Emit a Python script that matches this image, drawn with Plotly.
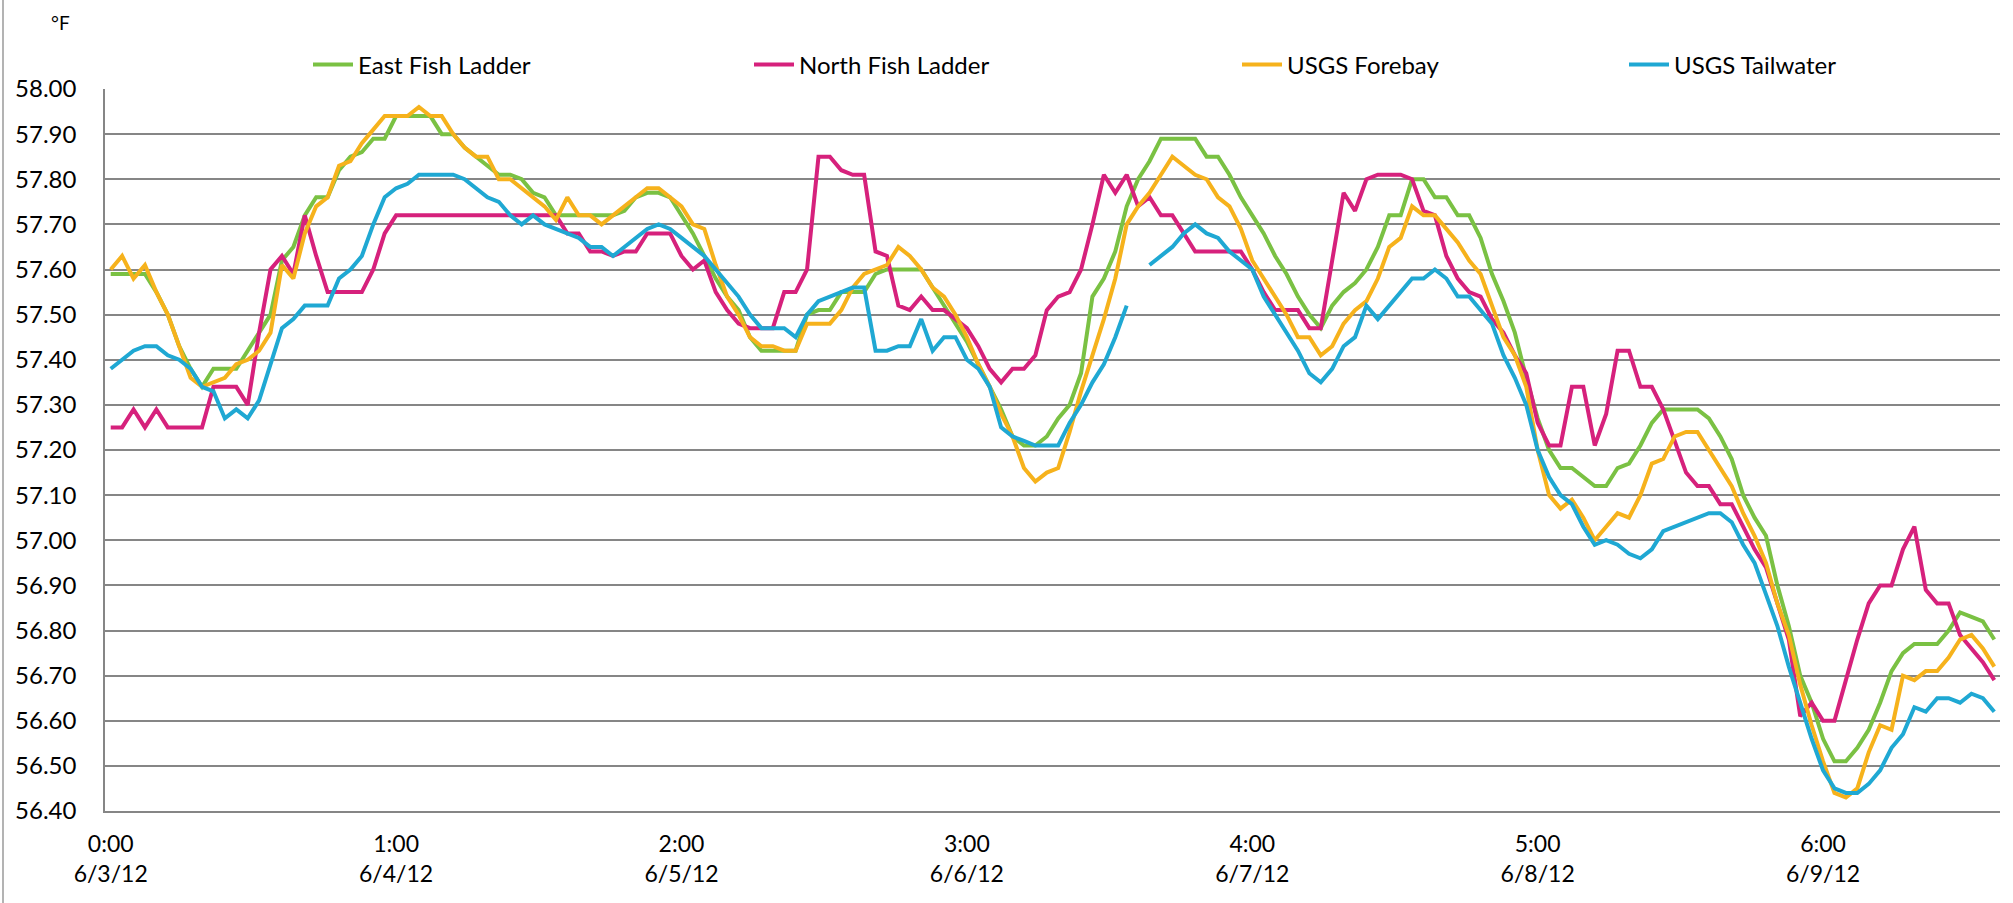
import plotly.graph_objects as go
import pandas as pd

# ---------------- data (hourly readings, °F) ----------------
START = "2012-06-03 00:00"

EAST_FISH_LADDER = [
    57.59, 57.59, 57.59, 57.59, 57.55, 57.50, 57.43, 57.38, 57.34, 57.38,
    57.38, 57.38, 57.42, 57.46, 57.50, 57.62, 57.65, 57.72, 57.76, 57.76,
    57.82, 57.85, 57.86, 57.89, 57.89, 57.94, 57.94, 57.94, 57.94, 57.90,
    57.90, 57.87, 57.85, 57.83, 57.81, 57.81, 57.80, 57.77, 57.76, 57.72,
    57.72, 57.72, 57.72, 57.72, 57.72, 57.73, 57.76, 57.77, 57.77, 57.76,
    57.72, 57.68, 57.63, 57.58, 57.54, 57.51, 57.45, 57.42, 57.42, 57.42,
    57.42, 57.50, 57.51, 57.51, 57.55, 57.55, 57.55, 57.59, 57.60, 57.60,
    57.60, 57.60, 57.56, 57.52, 57.48, 57.44, 57.39, 57.34, 57.29, 57.23,
    57.21, 57.21, 57.23, 57.27, 57.30, 57.37, 57.54, 57.58, 57.64, 57.74,
    57.80, 57.84, 57.89, 57.89, 57.89, 57.89, 57.85, 57.85, 57.81, 57.76,
    57.72, 57.68, 57.63, 57.59, 57.54, 57.50, 57.47, 57.52, 57.55, 57.57,
    57.60, 57.65, 57.72, 57.72, 57.80, 57.80, 57.76, 57.76, 57.72, 57.72,
    57.67, 57.59, 57.53, 57.46, 57.36, 57.27, 57.20, 57.16, 57.16, 57.14,
    57.12, 57.12, 57.16, 57.17, 57.21, 57.26, 57.29, 57.29, 57.29, 57.29,
    57.27, 57.23, 57.18, 57.10, 57.05, 57.01, 56.90, 56.81, 56.70, 56.64,
    56.56, 56.51, 56.51, 56.54, 56.58, 56.64, 56.71, 56.75, 56.77, 56.77,
    56.77, 56.80, 56.84, 56.83, 56.82, 56.78,
]

NORTH_FISH_LADDER = [
    57.25, 57.25, 57.29, 57.25, 57.29, 57.25, 57.25, 57.25, 57.25, 57.34,
    57.34, 57.34, 57.30, 57.46, 57.60, 57.63, 57.59, 57.72, 57.63, 57.55,
    57.55, 57.55, 57.55, 57.60, 57.68, 57.72, 57.72, 57.72, 57.72, 57.72,
    57.72, 57.72, 57.72, 57.72, 57.72, 57.72, 57.72, 57.72, 57.72, 57.72,
    57.68, 57.68, 57.64, 57.64, 57.63, 57.64, 57.64, 57.68, 57.68, 57.68,
    57.63, 57.60, 57.62, 57.55, 57.51, 57.48, 57.47, 57.47, 57.47, 57.55,
    57.55, 57.60, 57.85, 57.85, 57.82, 57.81, 57.81, 57.64, 57.63, 57.52,
    57.51, 57.54, 57.51, 57.51, 57.49, 57.47, 57.43, 57.38, 57.35, 57.38,
    57.38, 57.41, 57.51, 57.54, 57.55, 57.60, 57.70, 57.81, 57.77, 57.81,
    57.74, 57.76, 57.72, 57.72, 57.68, 57.64, 57.64, 57.64, 57.64, 57.64,
    57.60, 57.55, 57.51, 57.51, 57.51, 57.47, 57.47, 57.62, 57.77, 57.73,
    57.80, 57.81, 57.81, 57.81, 57.80, 57.73, 57.72, 57.63, 57.58, 57.55,
    57.54, 57.49, 57.46, 57.41, 57.37, 57.26, 57.21, 57.21, 57.34, 57.34,
    57.21, 57.28, 57.42, 57.42, 57.34, 57.34, 57.29, 57.22, 57.15, 57.12,
    57.12, 57.08, 57.08, 57.03, 56.98, 56.94, 56.86, 56.78, 56.61, 56.64,
    56.60, 56.60, 56.69, 56.78, 56.86, 56.90, 56.90, 56.98, 57.03, 56.89,
    56.86, 56.86, 56.79, 56.76, 56.73, 56.69,
]

USGS_FOREBAY = [
    57.60, 57.63, 57.58, 57.61, 57.55, 57.50, 57.43, 57.36, 57.34, 57.35,
    57.36, 57.39, 57.40, 57.42, 57.46, 57.61, 57.58, 57.68, 57.74, 57.76,
    57.83, 57.84, 57.88, 57.91, 57.94, 57.94, 57.94, 57.96, 57.94, 57.94,
    57.90, 57.87, 57.85, 57.85, 57.80, 57.80, 57.78, 57.76, 57.74, 57.71,
    57.76, 57.72, 57.72, 57.70, 57.72, 57.74, 57.76, 57.78, 57.78, 57.76,
    57.74, 57.70, 57.69, 57.61, 57.54, 57.50, 57.45, 57.43, 57.43, 57.42,
    57.42, 57.48, 57.48, 57.48, 57.51, 57.56, 57.59, 57.60, 57.61, 57.65,
    57.63, 57.60, 57.56, 57.54, 57.50, 57.45, 57.39, 57.34, 57.28, 57.23,
    57.16, 57.13, 57.15, 57.16, 57.24, 57.33, 57.41, 57.49, 57.58, 57.70,
    57.74, 57.77, 57.81, 57.85, 57.83, 57.81, 57.80, 57.76, 57.74, 57.69,
    57.62, 57.58, 57.54, 57.50, 57.45, 57.45, 57.41, 57.43, 57.48, 57.51,
    57.53, 57.58, 57.65, 57.67, 57.74, 57.72, 57.72, 57.69, 57.66, 57.62,
    57.59, 57.52, 57.45, 57.41, 57.34, 57.20, 57.10, 57.07, 57.09, 57.05,
    57.00, 57.03, 57.06, 57.05, 57.10, 57.17, 57.18, 57.23, 57.24, 57.24,
    57.20, 57.16, 57.12, 57.06, 57.01, 56.95, 56.86, 56.79, 56.68, 56.59,
    56.51, 56.44, 56.43, 56.45, 56.53, 56.59, 56.58, 56.70, 56.69, 56.71,
    56.71, 56.74, 56.78, 56.79, 56.76, 56.72,
]

USGS_TAILWATER = [
    57.38, 57.40, 57.42, 57.43, 57.43, 57.41, 57.40, 57.38, 57.34, 57.33,
    57.27, 57.29, 57.27, 57.31, 57.39, 57.47, 57.49, 57.52, 57.52, 57.52,
    57.58, 57.60, 57.63, 57.70, 57.76, 57.78, 57.79, 57.81, 57.81, 57.81,
    57.81, 57.80, 57.78, 57.76, 57.75, 57.72, 57.70, 57.72, 57.70, 57.69,
    57.68, 57.67, 57.65, 57.65, 57.63, 57.65, 57.67, 57.69, 57.70, 57.69,
    57.67, 57.65, 57.63, 57.60, 57.57, 57.54, 57.50, 57.47, 57.47, 57.47,
    57.45, 57.50, 57.53, 57.54, 57.55, 57.56, 57.56, 57.42, 57.42, 57.43,
    57.43, 57.49, 57.42, 57.45, 57.45, 57.40, 57.38, 57.34, 57.25, 57.23,
    57.22, 57.21, 57.21, 57.21, 57.26, 57.30, 57.35, 57.39, 57.45, 57.52,
    None, 57.61, 57.63, 57.65, 57.68, 57.70, 57.68, 57.67, 57.64, 57.62,
    57.60, 57.54, 57.50, 57.46, 57.42, 57.37, 57.35, 57.38, 57.43, 57.45,
    57.52, 57.49, 57.52, 57.55, 57.58, 57.58, 57.60, 57.58, 57.54, 57.54,
    57.51, 57.48, 57.41, 57.36, 57.30, 57.20, 57.14, 57.10, 57.08, 57.03,
    56.99, 57.00, 56.99, 56.97, 56.96, 56.98, 57.02, 57.03, 57.04, 57.05,
    57.06, 57.06, 57.04, 56.99, 56.95, 56.88, 56.81, 56.72, 56.64, 56.56,
    56.49, 56.45, 56.44, 56.44, 56.46, 56.49, 56.54, 56.57, 56.63, 56.62,
    56.65, 56.65, 56.64, 56.66, 56.65, 56.62,
]

SERIES_NAMES = ["East Fish Ladder", "North Fish Ladder", "USGS Forebay", "USGS Tailwater"]
SERIES_COLORS = ["#7ac143", "#d6217c", "#f6b21c", "#1fa8d3"]
TICK_LABELS = ["0:00<br>6/3/12", "1:00<br>6/4/12", "2:00<br>6/5/12", "3:00<br>6/6/12",
               "4:00<br>6/7/12", "5:00<br>6/8/12", "6:00<br>6/9/12"]
TICK_EVERY = 25  # label every 25 hourly categories
Y_TICKS = [58.00, 57.90, 57.80, 57.70, 57.60, 57.50, 57.40, 57.30, 57.20, 57.10,
           57.00, 56.90, 56.80, 56.70, 56.60, 56.50, 56.40]
UNIT_LABEL = "°F"

# ---------------- figure ----------------
times = pd.date_range(START, periods=len(EAST_FISH_LADDER), freq="h")
series = [EAST_FISH_LADDER, NORTH_FISH_LADDER, USGS_FOREBAY, USGS_TAILWATER]

W, H = 2013, 903
ML, MR, MT, MB = 105, 13, 89, 92
PW = W - ML - MR
PH = H - MT - MB

FONT = "Lato, 'Open Sans', sans-serif"

fig = go.Figure()
legend_names = ["legend", "legend2", "legend3", "legend4"]
for name, vals, col, lg in zip(SERIES_NAMES, series, SERIES_COLORS, legend_names):
    fig.add_trace(go.Scatter(
        x=times, y=vals, name=name, mode="lines",
        line=dict(color=col, width=4),
        connectgaps=False, legend=lg,
    ))

half = pd.Timedelta(minutes=30)
tickvals = [times[i] for i in range(0, len(times), TICK_EVERY)][:len(TICK_LABELS)]

# legend positions (pixel x of each legend box), converted to paper coordinates
legend_px = [308, 749, 1237, 1624]
leg_common = dict(orientation="h", yanchor="middle", y=1 + (MT - 65) / PH,
                  xanchor="left", bgcolor="rgba(0,0,0,0)", borderwidth=0,
                  font=dict(family=FONT, size=24, color="#000"), itemwidth=40)
legends = {}
for lg, px in zip(legend_names, legend_px):
    legends[lg] = dict(leg_common, x=(px - ML) / PW)

fig.update_layout(
    width=W, height=H,
    margin=dict(l=ML, r=MR, t=MT, b=MB),
    paper_bgcolor="white", plot_bgcolor="white",
    font=dict(family=FONT, size=23, color="#000"),
    showlegend=True,
    **legends,
    xaxis=dict(
        range=[times[0] - half, times[-1] + half],
        tickmode="array", tickvals=tickvals, ticktext=TICK_LABELS,
        showgrid=False, zeroline=False,
        showline=True, linecolor="#868686", linewidth=1.5,
        ticks="", tickfont=dict(family=FONT, size=23, color="#000"),
        ticklabelstandoff=12,
    ),
    yaxis=dict(
        range=[Y_TICKS[-1], Y_TICKS[0]],
        tickmode="array", tickvals=Y_TICKS, ticktext=[f"{v:.2f}" for v in Y_TICKS],
        showgrid=True, gridcolor="#868686", gridwidth=1.5,
        zeroline=False, showline=True, linecolor="#868686", linewidth=1.5,
        ticks="", tickfont=dict(family=FONT, size=24, color="#000"),
        ticklabelstandoff=22,
    ),
    annotations=[dict(
        text=UNIT_LABEL, xref="paper", yref="paper",
        x=(60 - ML) / PW, y=1 + (MT - 23) / PH,
        xanchor="center", yanchor="middle", showarrow=False,
        font=dict(family=FONT, size=19, color="#000"),
    )],
    shapes=[dict(type="line", xref="paper", yref="paper",
                 x0=(3 - ML) / PW, x1=(3 - ML) / PW,
                 y0=-MB / PH, y1=1 + MT / PH,
                 line=dict(color="#9a9a9a", width=1.5))],
)

fig.write_html("out.html", config={"displayModeBar": False})
with open("out.html", "r", encoding="utf-8") as f:
    html = f.read()
html = html.replace("<head>", "<head><style>html,body{margin:0;padding:0;}</style>", 1)
with open("out.html", "w", encoding="utf-8") as f:
    f.write(html)
